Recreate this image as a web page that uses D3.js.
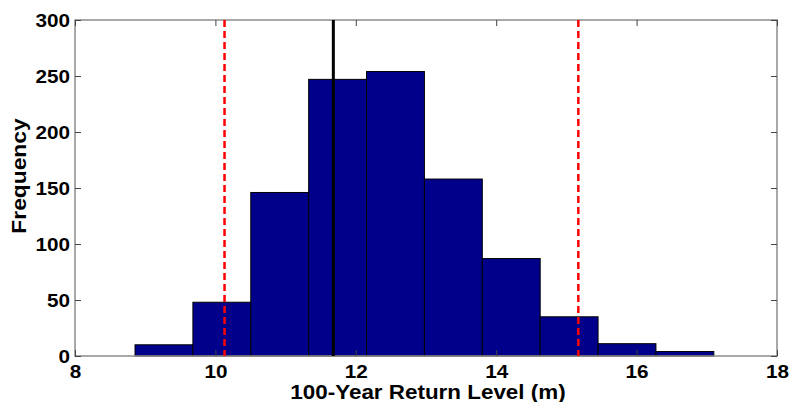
<!DOCTYPE html>
<html>
<head>
<meta charset="utf-8">
<script src="https://cdn.jsdelivr.net/npm/d3@7"></script>
<style>
  body { margin: 0; background: #fff; }
  text { font-family: "Liberation Sans", Arial, sans-serif; font-weight: bold; }
</style>
</head>
<body>
<div id="hist"></div>
<script>
// Histogram bins (left edge of first bin, bin width) and counts
const binStart = 8.855;
const binWidth = 0.8245;
const counts = [10, 48, 146, 247, 254, 158, 87, 35, 11, 4];

// Reference lines
const meanLine = 11.68;
const ciLines = [10.13, 15.17];

const xTicks = [8, 10, 12, 14, 16, 18];
const yTicks = [0, 50, 100, 150, 200, 250, 300];

const bins = counts.map((c, i) => ({ x0: binStart + i * binWidth, x1: binStart + (i + 1) * binWidth, count: c }));

const margin = { top: 20, right: 13, bottom: 46, left: 75 },
      width = 790 - margin.left - margin.right,
      height = 402 - margin.top - margin.bottom;

const svg = d3.select("#hist")
    .append("svg")
    .attr("width", 790)
    .attr("height", 402)
    .append("g")
    .attr("transform", `translate(${margin.left},${margin.top})`);

const xScale = d3.scaleLinear().domain([8, 18]).range([0, width]);
const yScale = d3.scaleLinear().domain([0, 300]).range([height, 0]);

// Bars
svg.selectAll("rect.bar")
    .data(bins)
    .enter()
    .append("rect")
    .attr("class", "bar")
    .attr("x", d => xScale(d.x0))
    .attr("y", d => yScale(d.count))
    .attr("width", d => xScale(d.x1) - xScale(d.x0))
    .attr("height", d => yScale(0) - yScale(d.count))
    .attr("fill", "#00008B")
    .attr("stroke", "#000")
    .attr("stroke-width", 1);

// Box around the plot
svg.append("rect")
    .attr("x", 0).attr("y", 0)
    .attr("width", width).attr("height", height)
    .attr("fill", "none")
    .attr("stroke", "#8c8c8c")
    .attr("stroke-width", 1.5);

// Axes with inward ticks
const xAxis = svg.append("g")
    .attr("transform", `translate(0,${height})`)
    .call(d3.axisBottom(xScale).tickValues(xTicks).tickSize(-6).tickPadding(9));
xAxis.select(".domain").remove();
xAxis.selectAll("text")
    .attr("font-size", 18).attr("fill", "#000")
    .attr("transform", "scale(1.15,1)");

const yAxis = svg.append("g")
    .call(d3.axisLeft(yScale).tickValues(yTicks).tickSize(-6).tickPadding(5));
yAxis.select(".domain").remove();
yAxis.selectAll("text")
    .attr("font-size", 18).attr("fill", "#000")
    .attr("dy", "0.36em")
    .each(function() {
        const t = d3.select(this);
        t.attr("transform", `translate(${t.attr("x")},0) scale(1.15,1) translate(${-t.attr("x")},0)`);
    });

const xTop = svg.append("g")
    .call(d3.axisTop(xScale).tickValues(xTicks).tickSize(-6).tickFormat(""));
xTop.select(".domain").remove();

const yRight = svg.append("g")
    .attr("transform", `translate(${width},0)`)
    .call(d3.axisRight(yScale).tickValues(yTicks).tickSize(-6).tickFormat(""));
yRight.select(".domain").remove();

svg.selectAll(".tick line").attr("stroke", "#444");

// Mean line
svg.append("line")
    .attr("x1", xScale(meanLine)).attr("x2", xScale(meanLine))
    .attr("y1", 0).attr("y2", height)
    .attr("stroke", "#000")
    .attr("stroke-width", 3);

// Confidence bounds
svg.selectAll("line.ci")
    .data(ciLines)
    .enter()
    .append("line")
    .attr("class", "ci")
    .attr("x1", d => xScale(d)).attr("x2", d => xScale(d))
    .attr("y1", 0).attr("y2", height)
    .attr("stroke", "#ff0000")
    .attr("stroke-width", 2.5)
    .attr("stroke-dasharray", "7,4");

// Axis labels
svg.append("text")
    .attr("transform", `translate(${width / 2 + 2},${height + 43}) scale(1.15,1)`)
    .attr("text-anchor", "middle")
    .attr("font-size", 19.5)
    .text("100-Year Return Level (m)");

svg.append("text")
    .attr("transform", `translate(${-margin.left + 26},${height / 2 - 12}) rotate(-90) scale(1.17,1)`)
    .attr("text-anchor", "middle")
    .attr("font-size", 19.5)
    .text("Frequency");
</script>
</body>
</html>
